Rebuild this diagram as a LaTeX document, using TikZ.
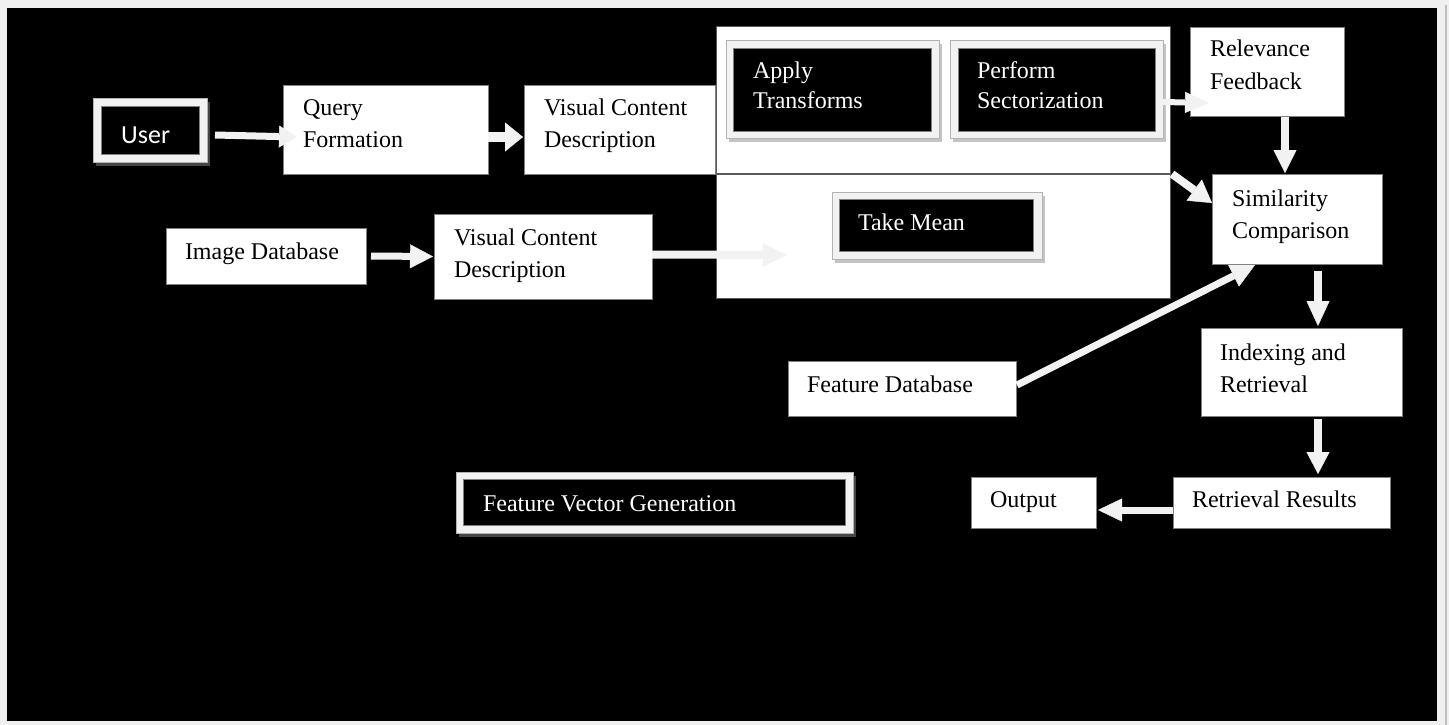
\documentclass[tikz,border=0pt]{standalone}
\usepackage{fontspec}
\setmainfont{Liberation Serif}
\newfontfamily\userfont{Carlito}
\usetikzlibrary{arrows.meta,shadows}
\definecolor{arrowc}{HTML}{F2F2F2}
\definecolor{pagebg}{HTML}{F0F0F0}
\definecolor{edgec}{HTML}{808080}
\definecolor{framec}{HTML}{F2F2F2}
\definecolor{darkshadow}{HTML}{454545}
\definecolor{lightshadow}{HTML}{C4C4C4}
\definecolor{rulec}{HTML}{C0C0C0}
\begin{document}
\begin{tikzpicture}[x=1pt,y=-1pt,
  wbox/.style={draw=edgec, line width=0.8pt, fill=white, anchor=north west, inner sep=0pt, outer sep=0pt},
  panel/.style={draw=edgec!70!black, line width=1pt, fill=white, anchor=north west, inner sep=0pt, outer sep=0pt},
  frameout/.style={draw=edgec!60, line width=0.6pt, fill=framec, anchor=north west, inner sep=0pt, outer sep=0pt},
  darkframe/.style={frameout, general shadow={fill=darkshadow, shadow xshift=3pt, shadow yshift=-4pt}},
  lightframe/.style={frameout, general shadow={fill=lightshadow, shadow xshift=3pt, shadow yshift=-4pt}},
  blackin/.style={draw=edgec, line width=0.6pt, fill=black, anchor=north west, inner sep=0pt, outer sep=0pt},
  txt/.style={anchor=base west, inner sep=0pt, outer sep=0pt, font=\fontsize{24}{29}\selectfont, text=black},
  wtxt/.style={txt, text=white},
  fat/.style={draw=arrowc, line cap=butt}
]
\useasboundingbox (0,0) rectangle (1449,725);
\fill[pagebg] (0,0) rectangle (1449,725);
\fill[black] (7,8) rectangle (1437,721);
\draw[rulec, line width=2pt] (1446,5) -- (1446,725);

% panels
\node[panel, minimum width=454pt, minimum height=146pt] (toppanel) at (716,27) {};
\node[panel, minimum width=454pt, minimum height=124pt] (botpanel) at (716,174) {};

% user
\node[darkframe, minimum width=114pt, minimum height=64pt] (user) at (93,98) {};
\node[blackin, minimum width=98pt, minimum height=48pt] (userin) at (101,106) {};
\node[anchor=base west, inner sep=0pt, text=white, font=\userfont\fontsize{26}{30}\selectfont] (usert) at (121,143) {User};

% white boxes
\node[wbox, minimum width=205pt, minimum height=89pt] (qf) at (283,85) {};
\node[txt] (qf1) at (303,115) {Query};
\node[txt] (qf2) at (303,147) {Formation};

\node[wbox, minimum width=191pt, minimum height=89pt] (vcdA) at (524,85) {};
\node[txt] (vcdA1) at (544,115) {Visual Content};
\node[txt] (vcdA2) at (544,147) {Description};

\node[wbox, minimum width=200pt, minimum height=56pt] (imgdb) at (166,228) {};
\node[txt] (imgdb1) at (185,259) {Image Database};

\node[wbox, minimum width=218pt, minimum height=85pt] (vcdB) at (434,214) {};
\node[txt] (vcdB1) at (454,245) {Visual Content};
\node[txt] (vcdB2) at (454,277) {Description};

\node[wbox, minimum width=154pt, minimum height=89pt] (relev) at (1190,27) {};
\node[txt] (relev1) at (1210,57) {Relevance};
\node[txt] (relev2) at (1210,89) {Feedback};

\node[wbox, minimum width=170pt, minimum height=90pt] (simil) at (1212,174) {};
\node[txt] (simil1) at (1232,206) {Similarity};
\node[txt] (simil2) at (1232,238) {Comparison};

\node[wbox, minimum width=228pt, minimum height=55pt] (featdb) at (788,361) {};
\node[txt] (featdb1) at (807,392) {Feature Database};

\node[wbox, minimum width=201pt, minimum height=88pt] (index) at (1201,328) {};
\node[txt] (index1) at (1220,360) {Indexing and};
\node[txt] (index2) at (1220,392) {Retrieval};

\node[wbox, minimum width=217pt, minimum height=51pt] (retr) at (1173,477) {};
\node[txt] (retr1) at (1192,507) {Retrieval Results};

\node[wbox, minimum width=125pt, minimum height=51pt] (output) at (971,477) {};
\node[txt] (output1) at (990,507) {Output};

% black boxes inside panels
\node[lightframe, minimum width=213pt, minimum height=98pt] (apply) at (726,40) {};
\node[blackin, minimum width=198pt, minimum height=83pt] (applyin) at (733,48) {};
\node[wtxt] (apply1) at (753,78) {Apply};
\node[wtxt] (apply2) at (753,109) {Transforms};

\node[lightframe, minimum width=213pt, minimum height=98pt] (perform) at (950,40) {};
\node[blackin, minimum width=197pt, minimum height=83pt] (performin) at (958,48) {};
\node[wtxt] (perform1) at (977,78) {Perform};
\node[wtxt] (perform2) at (977,109) {Sectorization};

\node[lightframe, minimum width=210pt, minimum height=67pt] (mean) at (832,192) {};
\node[blackin, minimum width=194pt, minimum height=52pt] (meanin) at (839,199) {};
\node[wtxt] (mean1) at (858,230) {Take Mean};

% feature vector generation
\node[darkframe, minimum width=397pt, minimum height=61pt] (fvg) at (456,472) {};
\node[blackin, minimum width=382pt, minimum height=46pt] (fvgin) at (463,479) {};
\node[wtxt] (fvg1) at (483,511) {Feature Vector Generation};

% arrows
\draw[fat, line width=7pt, -{Triangle[width=22pt,length=18pt,line width=0.4pt]}]
  ([xshift=8pt,yshift=-5pt]user.east) -- ([xshift=14pt,yshift=-7.5pt]qf.west);
\draw[fat, line width=10pt, -{Triangle[width=29pt,length=18pt,line width=0.4pt]}]
  ([yshift=-7.5pt]qf.east) -- ([xshift=-1pt,yshift=-7.5pt]vcdA.west);
\draw[fat, line width=7pt, -{Triangle[width=24pt,length=23pt,line width=0.4pt]}]
  ([xshift=5pt]imgdb.east) -- ([xshift=-1pt]vcdB.west);
\draw[fat, line width=8pt, -{Triangle[width=23pt,length=24pt,line width=0.4pt]}]
  ([yshift=2pt]vcdB.east) -- ([xshift=-45pt,yshift=-29.5pt]mean.west);
\draw[fat, line width=6pt, -{Triangle[width=21pt,length=24pt,line width=0.4pt]}]
  ([yshift=-13pt]perform.east) -- ([xshift=19pt,yshift=-31.5pt]relev.west);
\draw[fat, line width=8pt, -{Triangle[width=23pt,length=23pt,line width=0.4pt]}]
  ([xshift=18pt,yshift=-1pt]relev.south) -- ([xshift=-12pt,yshift=1pt]simil.north);
\draw[fat, line width=8pt, -{Triangle[width=26pt,length=22pt,line width=0.4pt]}]
  ([xshift=2pt,yshift=-1pt]toppanel.south east) -- ([yshift=16pt]simil.west);
\draw[fat, line width=7pt, -{Triangle[width=24pt,length=24pt,line width=0.4pt]}]
  ([xshift=1pt,yshift=3.5pt]featdb.east) -- ([xshift=-42pt,yshift=-1pt]simil.south);
\draw[fat, line width=8pt, -{Triangle[width=23pt,length=25pt,line width=0.4pt]}]
  ([xshift=21pt,yshift=-7pt]simil.south) -- ([xshift=16.5pt,yshift=2pt]index.north);
\draw[fat, line width=8pt, -{Triangle[width=23pt,length=22pt,line width=0.4pt]}]
  ([xshift=16.5pt,yshift=-3pt]index.south) -- ([xshift=36.5pt,yshift=3pt]retr.north);
\draw[fat, line width=7pt, -{Triangle[width=23pt,length=24pt,line width=0.4pt]}]
  ([yshift=-7.5pt]retr.west) -- ([xshift=2pt,yshift=-7.5pt]output.east);
\end{tikzpicture}
\end{document}
